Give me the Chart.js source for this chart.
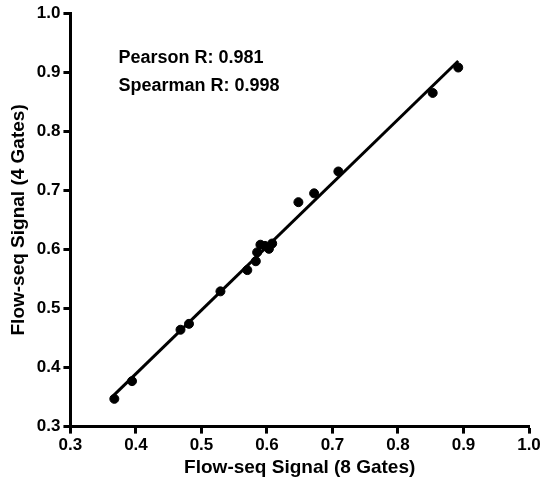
<!DOCTYPE html>
<html>
<head>
<meta charset="utf-8">
<script src="https://cdn.jsdelivr.net/npm/chart.js@4/dist/chart.umd.min.js"></script>
<style>
  html, body { margin: 0; padding: 0; background: #fff; }
  #wrap { width: 554px; height: 486px; }
</style>
</head>
<body>
<div id="wrap"><canvas id="scatter"></canvas></div>
<script>
// measured values (8 gates vs 4 gates)
const gates8 = [0.367, 0.394, 0.468, 0.481, 0.529, 0.570, 0.583, 0.585, 0.590, 0.597, 0.603, 0.608, 0.648, 0.672, 0.709, 0.853, 0.892];
const gates4 = [0.347, 0.377, 0.464, 0.474, 0.529, 0.565, 0.580, 0.595, 0.608, 0.606, 0.601, 0.610, 0.680, 0.695, 0.732, 0.865, 0.908];

// fit line ends
const fitX = [0.366, 0.892];
const fitY = [0.353, 0.919];

const statLines = ['Pearson R: 0.981', 'Spearman R: 0.998'];
const tickFmt = v => v.toFixed(1);

const FONT = '"Liberation Sans", Arial, Helvetica, sans-serif';

// writes the R values in the upper left of the plot
const statsText = {
  id: 'statsText',
  afterDatasetsDraw(chart) {
    const { ctx, scales } = chart;
    ctx.save();
    ctx.fillStyle = '#000';
    ctx.font = 'bold 18px ' + FONT;
    ctx.textBaseline = 'middle';
    const x0 = scales.x.getPixelForValue(0.3) + 48;
    statLines.forEach((t, i) => {
      ctx.fillText(t, x0, scales.y.getPixelForValue(0.3) - 369 + i * 28);
    });
    ctx.restore();
  }
};

const axisStyle = (title, tickPad, titlePad, titleLH) => ({
  type: 'linear',
  min: 0.3,
  max: 1.0,
  grid: { display: true, drawOnChartArea: false, drawTicks: true, tickLength: 7, tickWidth: 3, tickColor: '#000' },
  border: { display: true, width: 3, color: '#000' },
  ticks: {
    stepSize: 0.1,
    color: '#000',
    padding: tickPad,
    font: { family: FONT, size: 17, weight: 'bold' },
    callback: tickFmt
  },
  title: {
    display: true,
    text: title,
    color: '#000',
    padding: titlePad,
    font: { family: FONT, size: 19, weight: 'bold', lineHeight: titleLH }
  }
});

new Chart(document.getElementById('scatter').getContext('2d'), {
  type: 'scatter',
  data: {
    datasets: [
      {
        label: 'data',
        data: gates8.map((x, i) => ({ x: x, y: gates4[i] })),
        backgroundColor: '#000',
        borderColor: '#000',
        pointRadius: 4.5,
        pointHoverRadius: 4.5
      },
      {
        label: 'fit',
        type: 'line',
        data: fitX.map((x, i) => ({ x: x, y: fitY[i] })),
        borderColor: '#000',
        borderWidth: 3,
        pointRadius: 0,
        fill: false
      }
    ]
  },
  options: {
    responsive: true,
    maintainAspectRatio: false,
    animation: false,
    layout: { padding: { top: 4, right: 25, left: 3, bottom: 2 } },
    plugins: {
      legend: { display: false },
      tooltip: { enabled: false }
    },
    scales: {
      x: axisStyle('Flow-seq Signal (8 Gates)', 2, { top: 0, bottom: 7 }, 1.0),
      y: axisStyle('Flow-seq Signal (4 Gates)', 3, { top: 4, bottom: 4 }, 1.2)
    }
  },
  plugins: [statsText]
});
</script>
</body>
</html>
